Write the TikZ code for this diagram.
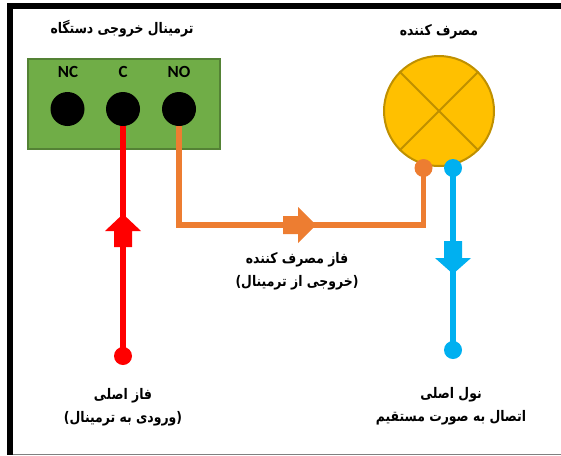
\documentclass[tikz,border=0pt]{standalone}
\usepackage{fontspec}
\setmainfont{Carlito}
\newfontfamily\farsi[Script=Arabic,FakeStretch=0.85]{DejaVu Sans}
\TeXXeTstate=1
\definecolor{termgreen}{HTML}{70AD47}
\definecolor{termedge}{HTML}{548235}
\definecolor{lampfill}{HTML}{FFC000}
\definecolor{lampedge}{HTML}{BF9000}
\definecolor{wirered}{HTML}{FF0000}
\definecolor{wireorange}{HTML}{ED7D31}
\definecolor{wireblue}{HTML}{00B0F0}
\tikzset{
  term/.style={circle,fill=black,draw=none,minimum size=34pt,inner sep=0},
  dotnode/.style={circle,draw=none,minimum size=18pt,inner sep=0},
  wire/.style={line width=5.6pt,line join=miter},
  termlabel/.style={font=\fontsize{17}{17}\selectfont\bfseries,inner sep=0},
  falabel/.style={font=\farsi\fontsize{14.6}{23}\selectfont\bfseries,align=center,inner sep=0},
}
\begin{document}
\begin{tikzpicture}[x=1pt,y=-1pt]
\useasboundingbox (0,0) rectangle (561,455);
% frame
\fill[black] (7,3) rectangle (561,8.5);
\fill[black] (7,3) rectangle (12.5,455);
\draw[gray,line width=0.8pt] (12.5,454.4) -- (561,454.4);
% terminal block
\node[draw=termedge,fill=termgreen,line width=2pt,minimum width=192pt,minimum height=90pt,inner sep=0,anchor=north west] (block) at (27,58) {};
\node[term] (nc) at (67.5,109) {};
\node[term] (c) at (123,109) {};
\node[term] (no) at (179,109) {};
\node[termlabel] (ncl) at (68,71.5) {NC};
\node[termlabel] (cl) at (123,71.5) {C};
\node[termlabel] (nol) at (179,71.5) {NO};
% lamp
\node[circle,draw=lampedge,fill=lampfill,line width=2pt,minimum size=110pt,inner sep=0] (lamp) at (439,111) {};
\draw[lampedge,line width=2pt] (lamp.45) -- (lamp.225) (lamp.135) -- (lamp.315);
% dots
\node[dotnode,fill=wirered] (rd) at (123,356) {};
\node[dotnode,fill=wireorange] (od) at (423.5,168) {};
\node[dotnode,fill=wireblue] (bd) at (453,168) {};
\node[dotnode,fill=wireblue] (be) at (453,350) {};
% wires
\draw[wire,wirered] (c.center) ++(0,17) -- (rd.center);
\coordinate (ocornerA) at (179,225);
\coordinate (ocornerB) at (423.5,225);
\draw[wire,wireorange] (179,126) -- (ocornerA) -- (ocornerB) -- (od.center);
\draw[wire,wireblue] (bd.center) -- (be.center);
% arrows
\fill[wirered] (123,214) -- (141,231) -- (132,231) -- (132,247) -- (114,247) -- (114,231) -- (105,231) -- cycle;
\fill[wireorange] (316,225) -- (298,207) -- (298,216) -- (283,216) -- (283,234) -- (298,234) -- (298,243) -- cycle;
\fill[wireblue] (453,274) -- (435,258) -- (444,258) -- (444,241) -- (462,241) -- (462,258) -- (471,258) -- cycle;
% labels
\node[falabel] (t1) at (122,29) {\beginR ترمینال خروجی دستگاه\endR};
\node[falabel] (t2) at (439,32) {\beginR مصرف کننده\endR};
\node[falabel] (t3) at (297,271.5) {\beginR فاز مصرف کننده\endR\\\beginR (خروجی از ترمینال)\endR};
\node[falabel] (t4) at (123,407.5) {\beginR فاز اصلی\endR\\\beginR (ورودی به ترمینال)\endR};
\node[falabel] (t5) at (451,406.5) {\beginR نول اصلی\endR\\\beginR اتصال به صورت مستقیم\endR};
\end{tikzpicture}
\end{document}
